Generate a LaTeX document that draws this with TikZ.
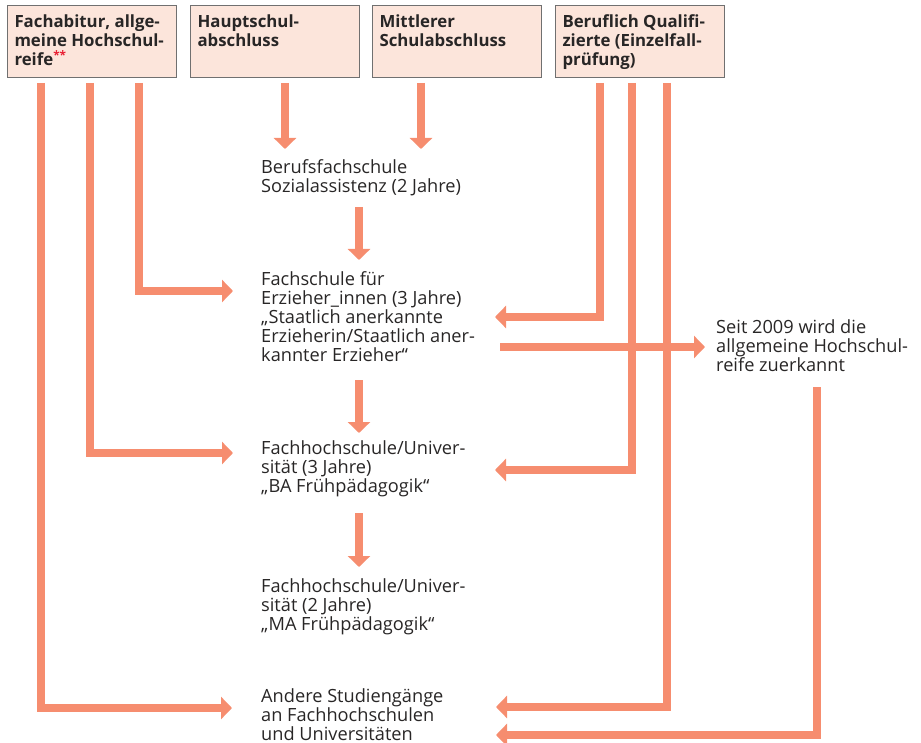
\documentclass[tikz,border=0pt]{standalone}
\usepackage{fontspec}
\setmainfont{Open Sans}
\usetikzlibrary{arrows.meta}
\definecolor{arr}{RGB}{246,141,111}
\definecolor{boxfill}{RGB}{252,229,219}
\definecolor{boxline}{RGB}{112,112,112}
\definecolor{txt}{RGB}{40,38,38}
\definecolor{star}{RGB}{232,30,50}
\begin{document}
\begin{tikzpicture}[x=1pt,y=-1pt,
  hdr/.style={draw=boxline, line width=1pt, fill=boxfill, anchor=north west,
    inner xsep=7pt, inner ysep=7pt, text=txt,
    font=\fontsize{16.8}{19}\selectfont\bfseries},
  lbl/.style={anchor=north west, inner sep=0pt, align=left, text=txt,
    font=\fontsize{18.2}{19}\selectfont},
  conn/.style={draw=arr, line width=8.5pt, -{Triangle[width=22pt,length=11pt]}}
]
\useasboundingbox (0,0) rectangle (921,743);

% header boxes
\node[hdr] (b1) at (7,5) {\parbox[t][58pt][t]{155pt}{\rule{0pt}{15pt}\mbox{Fachabitur, allge-}\\\mbox{meine Hochschul-}\\\mbox{reife\textsuperscript{\color{star}**}}}};
\node[hdr] (b2) at (190,5) {\parbox[t][58pt][t]{155pt}{\rule{0pt}{15pt}\mbox{Hauptschul-}\\\mbox{abschluss}}};
\node[hdr] (b3) at (372,5) {\parbox[t][58pt][t]{155pt}{\rule{0pt}{15pt}\mbox{Mittlerer}\\\mbox{Schulabschluss}}};
\node[hdr] (b4) at (555,5) {\parbox[t][58pt][t]{155pt}{\rule{0pt}{15pt}\mbox{Beruflich Qualifi-}\\\mbox{zierte (Einzelfall-}\\\mbox{prüfung)}}};

% text nodes
\node[lbl] (bfs) at (261,158) {\rule{0pt}{15pt}Berufsfachschule\\Sozialassistenz (2 Jahre)};
\node[lbl] (fs) at (261,270) {\rule{0pt}{15pt}Fachschule für\\Erzieher\_innen (3 Jahre)\\„Staatlich anerkannte\\Erzieherin/Staatlich aner-\\kannter Erzieher“};
\node[lbl] (fh3) at (261,439) {\rule{0pt}{15pt}Fachhochschule/Univer-\\sität (3 Jahre)\\„BA Frühpädagogik“};
\node[lbl] (fh2) at (261,577) {\rule{0pt}{15pt}Fachhochschule/Univer-\\sität (2 Jahre)\\„MA Frühpädagogik“};
\node[lbl] (and) at (261,687) {\rule{0pt}{15pt}Andere Studiengänge\\an Fachhochschulen\\und Universitäten};
\node[lbl] (seit) at (716,318) {\rule{0pt}{15pt}Seit 2009 wird die\\allgemeine Hochschul-\\reife zuerkannt};

% connector end points
\coordinate (b1a) at (41,83);
\coordinate (b1b) at (90,83);
\coordinate (b1c) at (139,83);
\coordinate (b2a) at (285,83);
\coordinate (b3a) at (421,83);
\coordinate (b4a) at (600,83);
\coordinate (b4b) at (632,83);
\coordinate (b4c) at (667,83);
\coordinate (bfsin1) at (285,149);
\coordinate (bfsin2) at (421,149);
\coordinate (bfsout) at (359,207);
\coordinate (fsin) at (359,260);
\coordinate (fsleft) at (233,291);
\coordinate (fsright) at (495,317);
\coordinate (fsout) at (359,380);
\coordinate (fsside) at (500,347);
\coordinate (seitin) at (705,347);
\coordinate (seitout) at (817,387);
\coordinate (fh3in) at (359,433);
\coordinate (fh3left) at (233,453);
\coordinate (fh3right) at (495,470);
\coordinate (fh3out) at (359,513);
\coordinate (fh2in) at (359,567);
\coordinate (andleft) at (232,708);
\coordinate (andright1) at (496,707);
\coordinate (andright2) at (496,735);

% connectors
\draw[conn] (b1a) |- (andleft);
\draw[conn] (b1b) |- (fh3left);
\draw[conn] (b1c) |- (fsleft);
\draw[conn] (b2a) -- (bfsin1);
\draw[conn] (b3a) -- (bfsin2);
\draw[conn] (bfsout) -- (fsin);
\draw[conn] (b4a) |- (fsright);
\draw[conn] (b4b) |- (fh3right);
\draw[conn] (b4c) |- (andright1);
\draw[conn] (fsside) -- (seitin);
\draw[conn] (fsout) -- (fh3in);
\draw[conn] (fh3out) -- (fh2in);
\draw[conn] (seitout) |- (andright2);
\end{tikzpicture}
\end{document}
